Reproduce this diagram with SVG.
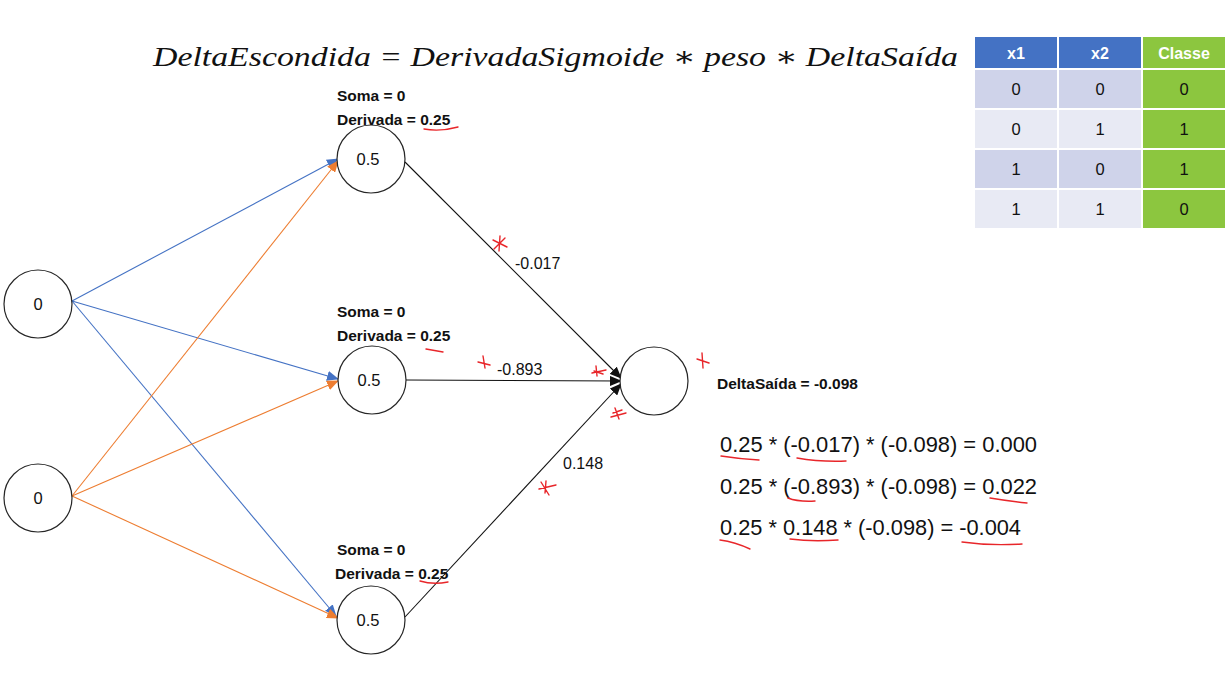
<svg xmlns="http://www.w3.org/2000/svg" width="1225" height="677" viewBox="0 0 1225 677">
<style>
.node{fill:#fff;stroke:#262626;stroke-width:1.2}
.nt{font-family:"Liberation Sans",Arial,sans-serif;font-size:16.5px;fill:#111;text-anchor:middle}
.lb{font-family:"Liberation Sans",Arial,sans-serif;font-size:15.5px;font-weight:bold;fill:#111}
.wl{font-family:"Liberation Sans",Arial,sans-serif;font-size:16px;fill:#111}
.eq{font-family:"Liberation Sans",Arial,sans-serif;font-size:21.5px;fill:#111}
.blue{stroke:#4472C4;stroke-width:1.1;fill:none}
.orange{stroke:#ED7D31;stroke-width:1.1;fill:none}
.blk{stroke:#111;stroke-width:1.1;fill:none}
.red{stroke:#E8262A;stroke-width:1.4;fill:none;stroke-linecap:round}
.th{font-family:"Liberation Sans",Arial,sans-serif;font-size:16px;font-weight:bold;fill:#fff;text-anchor:middle}
.td{font-family:"Liberation Sans",Arial,sans-serif;font-size:16.5px;fill:#111;text-anchor:middle}
</style>
<defs>
<marker id="ab" markerUnits="userSpaceOnUse" markerWidth="12" markerHeight="10" refX="11" refY="5" orient="auto"><path d="M0,0 L12,5 L0,10 Z" fill="#4472C4"/></marker>
<marker id="ao" markerUnits="userSpaceOnUse" markerWidth="12" markerHeight="10" refX="11" refY="5" orient="auto"><path d="M0,0 L12,5 L0,10 Z" fill="#ED7D31"/></marker>
<marker id="ak" markerUnits="userSpaceOnUse" markerWidth="12" markerHeight="10" refX="11" refY="5" orient="auto"><path d="M0,0 L12,5 L0,10 Z" fill="#111"/></marker>
</defs>
<rect width="1225" height="677" fill="#fff"/>

<text x="153" y="66" font-family="'Liberation Serif','DejaVu Serif',serif" font-style="italic" font-size="28" fill="#111" textLength="805" lengthAdjust="spacingAndGlyphs">DeltaEscondida = DerivadaSigmoide  ∗ peso  ∗ DeltaSaída</text>

<g id="connectors">
<line class="blue" x1="72" y1="301" x2="338" y2="159" marker-end="url(#ab)"/>
<line class="blue" x1="72" y1="301" x2="338" y2="379" marker-end="url(#ab)"/>
<line class="blue" x1="72" y1="301" x2="336" y2="616" marker-end="url(#ab)"/>
<line class="orange" x1="72" y1="496" x2="338" y2="161" marker-end="url(#ao)"/>
<line class="orange" x1="72" y1="496" x2="338" y2="381" marker-end="url(#ao)"/>
<line class="orange" x1="72" y1="496" x2="338" y2="618" marker-end="url(#ao)"/>
<line class="blk" x1="405" y1="162" x2="621" y2="378" marker-end="url(#ak)"/>
<line class="blk" x1="406" y1="380" x2="621" y2="381" marker-end="url(#ak)"/>
<line class="blk" x1="405" y1="617" x2="621" y2="384" marker-end="url(#ak)"/>
<text class="wl" x="515" y="269">-0.017</text>
<text class="wl" x="497" y="375">-0.893</text>
<text class="wl" x="563" y="469">0.148</text>
</g>

<g id="in1"><circle class="node" cx="38" cy="304" r="34"/><text class="nt" x="38" y="310">0</text></g>
<g id="in2"><circle class="node" cx="38" cy="498" r="34"/><text class="nt" x="38" y="504">0</text></g>

<g id="h1"><circle class="node" cx="371" cy="159" r="34"/><text class="nt" x="368" y="165">0.5</text>
<text class="lb" x="337" y="101">Soma = 0</text><text class="lb" x="337" y="125">Derivada = 0.25</text></g>
<g id="h2"><circle class="node" cx="372" cy="380" r="34"/><text class="nt" x="369" y="386">0.5</text>
<text class="lb" x="337" y="317">Soma = 0</text><text class="lb" x="337" y="341">Derivada = 0.25</text></g>
<g id="h3"><circle class="node" cx="371" cy="620" r="34"/><text class="nt" x="368" y="626">0.5</text>
<text class="lb" x="337" y="555">Soma = 0</text><text class="lb" x="335" y="579">Derivada = 0.25</text></g>

<g id="out"><circle class="node" cx="654" cy="381" r="34"/>
<text class="lb" x="717" y="389">DeltaSaída = -0.098</text></g>

<g id="equations">
<text class="eq" x="720" y="452" textLength="317" lengthAdjust="spacingAndGlyphs">0.25 * (-0.017) * (-0.098) = 0.000</text>
<text class="eq" x="720" y="494" textLength="317" lengthAdjust="spacingAndGlyphs">0.25 * (-0.893) * (-0.098) = 0.022</text>
<text class="eq" x="720" y="535" textLength="301" lengthAdjust="spacingAndGlyphs">0.25 * 0.148 * (-0.098) = -0.004</text>
</g>

<g id="table">
<rect x="975" y="37" width="82" height="31" fill="#4472C4"/>
<rect x="1059" y="37" width="82" height="31" fill="#4472C4"/>
<rect x="1143" y="37" width="82" height="31" fill="#8CC63F"/>
<rect x="975" y="70" width="82" height="38" fill="#CFD3EA"/>
<rect x="1059" y="70" width="82" height="38" fill="#CFD3EA"/>
<rect x="975" y="110" width="82" height="38" fill="#E8EAF4"/>
<rect x="1059" y="110" width="82" height="38" fill="#E8EAF4"/>
<rect x="975" y="150" width="82" height="38" fill="#CFD3EA"/>
<rect x="1059" y="150" width="82" height="38" fill="#CFD3EA"/>
<rect x="975" y="190" width="82" height="38" fill="#E8EAF4"/>
<rect x="1059" y="190" width="82" height="38" fill="#E8EAF4"/>
<rect x="1143" y="70" width="82" height="38" fill="#8CC63F"/>
<rect x="1143" y="110" width="82" height="38" fill="#8CC63F"/>
<rect x="1143" y="150" width="82" height="38" fill="#8CC63F"/>
<rect x="1143" y="190" width="82" height="38" fill="#8CC63F"/>
<text class="th" x="1016" y="59">x1</text><text class="th" x="1100" y="59">x2</text><text class="th" x="1184" y="59">Classe</text>
<text class="td" x="1016" y="95">0</text><text class="td" x="1100" y="95">0</text><text class="td" x="1184" y="95">0</text>
<text class="td" x="1016" y="135">0</text><text class="td" x="1100" y="135">1</text><text class="td" x="1184" y="135">1</text>
<text class="td" x="1016" y="175">1</text><text class="td" x="1100" y="175">0</text><text class="td" x="1184" y="175">1</text>
<text class="td" x="1016" y="215">1</text><text class="td" x="1100" y="215">1</text><text class="td" x="1184" y="215">0</text>
</g>

<g id="annotations">
<path class="red" d="M424,129 Q440,132 458,127"/>
<path class="red" d="M426,349 L443,352"/>
<path class="red" d="M420,581 Q433,585 448,582"/>
<path class="red" d="M493,240 L507,247 M500,236 L499,251 M494,249 L505,238"/>
<path class="red" d="M478,362 L490,365 M483,356 L485,368"/>
<path class="red" d="M592,373 L606,370 M596,366 L597,376 M594,371 L603,374"/>
<path class="red" d="M697,359 L709,363 M702,353 L703,368"/>
<path class="red" d="M611,417 L626,413 M615,408 L619,419 M613,413 L622,410"/>
<path class="red" d="M539,489 L556,485 M541,482 L549,495 M546,481 L545,493"/>
<path class="red" d="M721,456 Q740,459 759,460"/>
<path class="red" d="M797,458 Q820,462 846,461"/>
<path class="red" d="M788,498 Q798,502 815,501"/>
<path class="red" d="M990,498 Q1008,501 1027,503"/>
<path class="red" d="M720,540 Q735,542 750,549"/>
<path class="red" d="M790,539 Q812,542 838,540"/>
<path class="red" d="M962,542 Q990,546 1022,544"/>
</g>
</svg>
